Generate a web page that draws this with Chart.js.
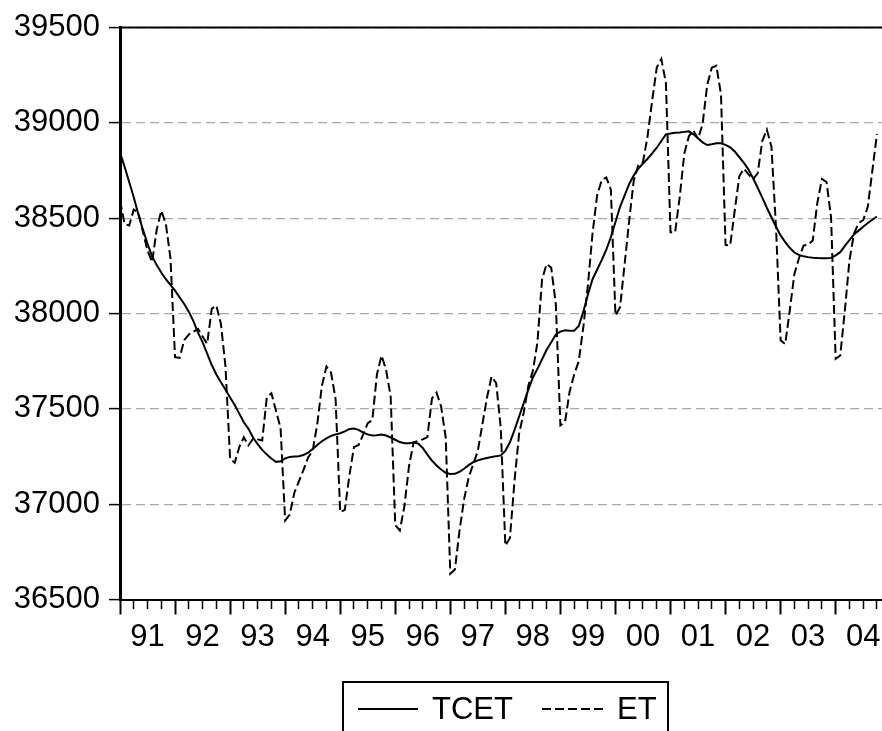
<!DOCTYPE html>
<html lang="en">
<head>
<meta charset="UTF-8">
<title>TCET and ET</title>
<script src="https://cdn.jsdelivr.net/npm/chart.js"></script>
<style>
  html, body { margin: 0; padding: 0; background: #fff; }
  #wrap { width: 882px; height: 731px; }
</style>
</head>
<body>
<div id="wrap"><canvas id="chart" width="882" height="731"></canvas></div>
<script>
// monthly data, 1991M01 .. 2004M10 (one row per year)
const yearLabels = ['91', '92', '93', '94', '95', '96', '97', '98', '99', '00', '01', '02', '03', '04'];
const yTicks = [36500, 37000, 37500, 38000, 38500, 39000, 39500];

// trend-cycle
const tcet = [
  38846, 38770, 38690, 38610, 38520, 38440, 38366, 38300, 38255, 38215, 38180, 38150,
  38120, 38085, 38050, 38010, 37960, 37900, 37850, 37790, 37730, 37680, 37640, 37600,
  37560, 37520, 37475, 37430, 37395, 37350, 37315, 37285, 37260, 37240, 37222, 37225,
  37240, 37248, 37250, 37252, 37258, 37270, 37290, 37310, 37330, 37345, 37358, 37366,
  37372, 37382, 37394, 37397, 37390, 37375, 37366, 37360, 37362, 37365, 37360, 37350,
  37338, 37326, 37320, 37320, 37324, 37318, 37295, 37260, 37228, 37203, 37182, 37165,
  37158, 37159, 37170, 37186, 37205, 37220, 37230, 37237, 37242, 37247, 37252, 37256,
  37280, 37325, 37390, 37460, 37530, 37600, 37665, 37710, 37760, 37810, 37850, 37890,
  37905, 37912, 37910, 37910, 37935, 38010, 38100, 38180, 38230, 38280, 38335, 38400,
  38480, 38560, 38620, 38680, 38725, 38760, 38787, 38812, 38840, 38870, 38905, 38940,
  38945, 38948, 38950, 38953, 38956, 38940, 38920, 38898, 38884, 38888, 38893, 38893,
  38885, 38872, 38850, 38820, 38790, 38755, 38710, 38660, 38608, 38555, 38505, 38455,
  38410, 38375, 38345, 38320, 38308, 38300, 38296, 38293, 38291, 38290, 38290, 38292,
  38305, 38322, 38355, 38385, 38415, 38435, 38455, 38475, 38492, 38509
];

// original series
const et = [
  38593, 38470, 38462, 38545, 38530, 38430, 38330, 38270, 38440, 38540, 38470, 38290,
  37771, 37768, 37860, 37890, 37905, 37920, 37880, 37841, 38025, 38042, 37946, 37720,
  37238, 37217, 37299, 37351, 37308, 37343, 37340, 37334, 37561, 37582, 37490, 37400,
  36914, 36945, 37060, 37120, 37180, 37245, 37280, 37420, 37620, 37722, 37690, 37550,
  36958, 36970, 37150, 37300, 37310, 37365, 37425, 37440, 37680, 37780, 37705, 37565,
  36890, 36862, 36990, 37200, 37325, 37332, 37340, 37352, 37555, 37585, 37512, 37350,
  36635, 36657, 36860, 37025, 37140, 37210, 37280, 37420, 37560, 37670, 37635, 37400,
  36783, 36823, 37124, 37370, 37480, 37620, 37700, 37850, 38180, 38260, 38240, 38050,
  37413, 37430, 37590, 37680, 37750, 37930, 38150, 38420, 38620, 38700, 38714, 38650,
  37990, 38033, 38260, 38490, 38700, 38780, 38795, 38930, 39117, 39290, 39335, 39210,
  38426, 38426, 38610, 38838, 38930, 38960, 38916, 38995, 39200, 39290, 39300, 39150,
  38360, 38357, 38540, 38720, 38760, 38730, 38705, 38735, 38905, 38965, 38875, 38450,
  37860, 37840, 38016, 38208, 38290, 38357, 38362, 38383, 38580, 38706, 38690, 38505,
  37762, 37780, 38016, 38278, 38420, 38475, 38490, 38560, 38750, 38942
];

const FONT = 'Liberation Sans, Arial, sans-serif';

// quarter ticks (every third month), years on every twelfth
const quarterTicks = [];
for (let m = 0; m < et.length; m += 3) quarterTicks.push(m);

const toPoints = arr => arr.map((v, i) => ({ x: i, y: v }));

// top frame line + legend box
const framePlugin = {
  id: 'frame',
  afterDraw(chart) {
    const c = chart.ctx;
    const area = chart.chartArea;
    c.save();
    c.strokeStyle = '#000';
    c.lineWidth = 2;
    c.beginPath();
    c.moveTo(area.left, area.top);
    c.lineTo(chart.width, area.top);
    c.stroke();

    // legend
    c.beginPath();
    c.moveTo(343, 745);
    c.lineTo(343, 682);
    c.lineTo(668, 682);
    c.lineTo(668, 745);
    c.stroke();

    c.lineWidth = 2;
    c.beginPath();
    c.moveTo(358, 709);
    c.lineTo(418, 709);
    c.stroke();

    c.setLineDash([9, 4]);
    c.beginPath();
    c.moveTo(542, 709);
    c.lineTo(604, 709);
    c.stroke();
    c.setLineDash([]);

    c.fillStyle = '#000';
    c.font = '31px ' + FONT;
    c.textBaseline = 'alphabetic';
    c.fillText('TCET', 432, 719);
    c.fillText('ET', 617, 719);
    c.restore();
  }
};

new Chart(document.getElementById('chart'), {
  type: 'line',
  data: {
    datasets: [
      {
        label: 'TCET',
        data: toPoints(tcet),
        borderColor: '#000',
        borderWidth: 2,
        pointRadius: 0,
        tension: 0,
        fill: false
      },
      {
        label: 'ET',
        data: toPoints(et),
        borderColor: '#000',
        borderWidth: 2,
        borderDash: [9, 4],
        pointRadius: 0,
        tension: 0,
        fill: false
      }
    ]
  },
  options: {
    responsive: false,
    animation: false,
    devicePixelRatio: 1,
    layout: { padding: { top: 27, left: 0, right: 0, bottom: 0 } },
    plugins: {
      legend: { display: false },
      tooltip: { enabled: false }
    },
    scales: {
      x: {
        type: 'linear',
        position: 'bottom',
        min: 0,
        max: 166.1,
        afterBuildTicks: s => { s.ticks = quarterTicks.map(v => ({ value: v })); },
        afterFit: s => { s.height = 131.5; },
        grid: {
          drawOnChartArea: false,
          tickLength: 15,
          tickColor: '#000',
          tickWidth: c => (c.tick && c.tick.value % 12 === 0 ? 2 : 1.5),
          tickBorderDash: c => (c.tick && c.tick.value % 12 === 0 ? [] : [8, 40])
        },
        border: { color: '#000', width: 2 },
        ticks: {
          autoSkip: false,
          maxRotation: 0,
          labelOffset: 27.5,
          padding: 4,
          color: '#000',
          font: { family: FONT, size: 31 },
          callback: v => (v % 12 === 0 ? yearLabels[v / 12] : '')
        }
      },
      y: {
        min: 36500,
        max: 39500,
        afterBuildTicks: s => { s.ticks = yTicks.map(v => ({ value: v })); },
        afterFit: s => { s.width = 120; },
        grid: {
          color: '#a8a8a8',
          lineWidth: 1.2,
          tickLength: 11,
          tickColor: '#000',
          tickWidth: 1.5,
          tickBorderDash: []
        },
        border: { color: '#000', width: 3, dash: [9, 5] },
        ticks: {
          padding: 9,
          color: '#000',
          font: { family: FONT, size: 31 },
          callback: v => String(v)
        }
      }
    }
  },
  plugins: [framePlugin]
});
</script>
</body>
</html>
